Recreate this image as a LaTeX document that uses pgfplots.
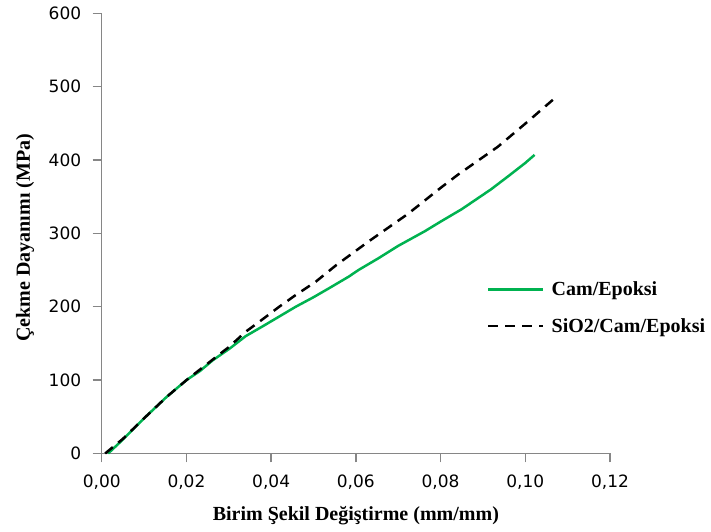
\documentclass[border=0pt]{standalone}
\usepackage{fontspec}
\setmainfont{Liberation Serif}
\newfontfamily\tickfont{DejaVu Sans}
\usepackage{pgfplots}
\pgfplotsset{compat=1.18}
\definecolor{cgreen}{RGB}{0,178,80}
\definecolor{axgray}{RGB}{134,134,134}
\begin{document}
\begin{tikzpicture}
\begin{axis}[
  scale only axis, width=508pt, height=440pt,
  xmin=0, xmax=0.12, ymin=0, ymax=600,
  xtick={0,0.02,...,0.12}, ytick={0,100,...,600},
  axis x line*=bottom, axis y line*=left,
  axis line style={-, axgray, line width=1.3pt},
  tick align=outside,
  tick style={axgray, line width=1.3pt},
  major tick length=9pt,
  ticklabel style={font=\tickfont\fontsize{17}{19}\selectfont, black},
  xticklabel style={yshift=-9pt, /pgf/number format/.cd, fixed, fixed zerofill, precision=2, use comma, assume math mode=true},
  yticklabel style={xshift=-8pt, /pgf/number format/.cd, fixed, precision=0, assume math mode=true},
  scaled x ticks=false,
  xlabel={Birim Şekil Değiştirme (mm/mm)},
  ylabel={Çekme Dayanımı (MPa)},
  label style={font=\bfseries\fontsize{20}{24}\selectfont},
  x label style={at={(axis description cs:0.5,-0.142)}, anchor=center},
  y label style={at={(axis description cs:-0.151,0.49)}, anchor=center, rotate=0},
  legend style={draw=none, fill=none, at={(rel axis cs:0.752,0.331)}, anchor=west,
    font=\bfseries\fontsize{20}{24}\selectfont, row sep=17pt, cells={anchor=west},
    nodes={inner xsep=7pt}},
  legend image code/.code={\draw[#1] (0pt,0pt) -- (55pt,0pt);},
  clip=false,
]
\coordinate (bl) at (rel axis cs:0,0);
\coordinate (tr) at (rel axis cs:1,1);
\addplot[cgreen, line width=2.5pt] coordinates {
(0.0015,0) (0.005,19) (0.010,48) (0.0153,77) (0.020,100) (0.0231,112)
(0.0262,127) (0.0302,143) (0.0340,160) (0.0379,173) (0.0420,187) (0.0458,200)
(0.0500,213) (0.0536,225) (0.0583,241) (0.0606,250) (0.0653,266) (0.070,283)
(0.0763,303) (0.080,316) (0.085,333) (0.0919,360) (0.096,378) (0.100,396) (0.1022,407)
};
\addlegendentry{Cam/Epoksi}
\addplot[black, line width=2.5pt, dash pattern=on 10pt off 7pt] coordinates {
(0.0008,0) (0.005,20) (0.010,48) (0.0153,77) (0.020,100) (0.0262,128)
(0.0300,145) (0.0340,166) (0.0380,183) (0.0419,200) (0.0458,216) (0.0505,234)
(0.0552,256) (0.0630,289) (0.0724,327) (0.0800,362) (0.0841,380) (0.0935,418)
(0.1005,452) (0.1071,485)
};
\addlegendentry{SiO2/Cam/Epoksi}
\end{axis}
\pgfresetboundingbox
\path ([shift={(-101.7pt,-77.7pt)}]bl) rectangle ([shift={(101pt,13.3pt)}]tr);
\end{tikzpicture}
\end{document}
